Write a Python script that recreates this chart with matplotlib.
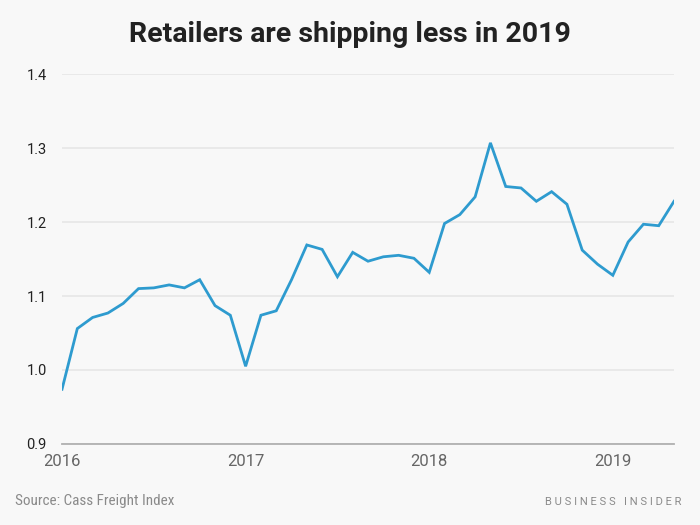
import matplotlib.pyplot as plt

# Cass Freight Index, shipments, monthly Jan 2016 - May 2019
months = list(range(41))
shipments = [
    0.974, 1.056, 1.071, 1.077, 1.090, 1.110, 1.111, 1.115, 1.111, 1.122, 1.087, 1.074,
    1.005, 1.074, 1.080, 1.122, 1.169, 1.163, 1.126, 1.159, 1.147, 1.153, 1.155, 1.151,
    1.132, 1.198, 1.210, 1.234, 1.307, 1.248, 1.246, 1.228, 1.241, 1.224, 1.162, 1.143,
    1.128, 1.173, 1.197, 1.195, 1.228,
]
year_ticks = [0, 12, 24, 36]
year_labels = ["2016", "2017", "2018", "2019"]
y_ticks = [0.9, 1.0, 1.1, 1.2, 1.3, 1.4]

bg = "#f8f8f8"
plt.rcParams['font.family'] = ['Roboto', 'DejaVu Sans']

fig = plt.figure(figsize=(7, 5.25), dpi=100, facecolor=bg)
ax = fig.add_axes([0.0886, 0.1543, 0.8743, 0.7047], facecolor=bg)

ax.plot(months, shipments, color="#2e9bcf", lw=2.0, solid_joinstyle="miter")

ax.set_xlim(0, 40)
ax.set_ylim(0.9, 1.4)
ax.set_yticks(y_ticks)
ax.set_yticklabels([f"{v:.1f}" for v in y_ticks])
ax.set_xticks(year_ticks)
ax.set_xticklabels(year_labels)
ax.yaxis.grid(True, color="#e6e6e6", lw=1.2)
ax.set_axisbelow(True)

for s in ["top", "right", "left"]:
    ax.spines[s].set_visible(False)
ax.spines["bottom"].set_color("#b0b0b0")
ax.spines["bottom"].set_linewidth(1.3)

ax.tick_params(axis="y", length=0, pad=11, labelsize=10.5, labelcolor="#222222")
ax.tick_params(axis="x", length=0, pad=7, labelsize=12, labelcolor="#666666")

fig.text(0.5, 0.935, "Retailers are shipping less in 2019", ha="center", va="center",
         fontsize=20.5, fontweight="bold", color="#222222")
fig.text(0.022, 0.046, "Source: Cass Freight Index", ha="left", va="center",
         fontsize=10.9, color="#8a8a8a", family=["Roboto Condensed", "Roboto", "DejaVu Sans"])
fig.text(0.973, 0.044, "B U S I N E S S   I N S I D E R", ha="right", va="center",
         fontsize=8, color="#8a8a8a")

fig.savefig("out.png", dpi=100, facecolor=bg)
